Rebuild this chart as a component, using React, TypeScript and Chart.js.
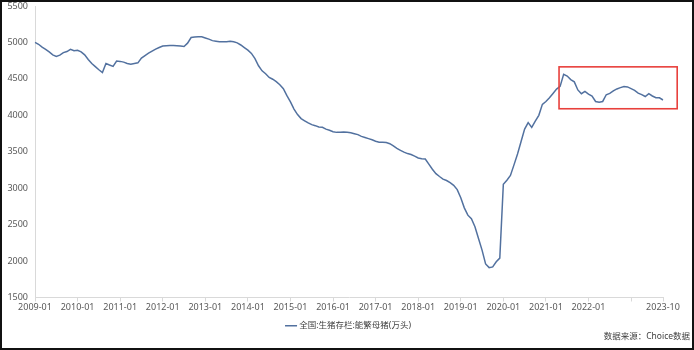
import { useEffect, useRef } from "react";
import { Chart, registerables } from "chart.js";

Chart.register(...registerables);

// ---- data ----
const START_YEAR = 2009;
const END_YEAR = 2023;
const END_MONTH = 10;
const MONTHS: string[] = [];
for (let y = START_YEAR; y <= END_YEAR; y++) {
  for (let m = 1; m <= 12; m++) {
    if (y === END_YEAR && m > END_MONTH) break;
    MONTHS.push(`${y}-${m < 10 ? "0" + m : m}`);
  }
}

const SOWS_2009_2012 = [
  5000, 4975, 4935, 4905, 4870, 4830, 4808, 4825, 4860, 4875, 4905, 4885,
  4893, 4870, 4830, 4765, 4710, 4668, 4625, 4586, 4710, 4690, 4672, 4745,
  4740, 4730, 4712, 4700, 4710, 4720, 4785, 4820, 4852, 4880, 4908, 4930,
  4950, 4955, 4958, 4958, 4955, 4950, 4945, 4990, 5068, 5075, 5077, 5078,
];
const SOWS_2013_2016 = [
  5062, 5045, 5025, 5017, 5010, 5008, 5010, 5017, 5008, 4994, 4965, 4930,
  4895, 4850, 4778, 4680, 4610, 4570, 4520, 4495, 4462, 4420, 4365, 4270,
  4185, 4085, 4010, 3955, 3925, 3895, 3872, 3858, 3840, 3835, 3810, 3795,
  3775, 3766, 3768, 3770, 3768, 3760, 3748, 3735, 3711, 3695, 3680, 3664,
];
const SOWS_2017_2020 = [
  3645, 3632, 3630, 3626, 3610, 3580, 3545, 3520, 3495, 3475, 3462, 3440,
  3415, 3405, 3400, 3330, 3260, 3200, 3160, 3125, 3105, 3075, 3040, 2980,
  2870, 2730, 2630, 2580, 2470, 2310, 2150, 1960, 1910, 1920, 1990, 2040,
  3055, 3110, 3175, 3320, 3470, 3640, 3810, 3900, 3835, 3920, 4000, 4150,
];
const SOWS_2021_2023 = [
  4190, 4240, 4300, 4360, 4397, 4564, 4539, 4490, 4459, 4348, 4296, 4329,
  4290, 4265, 4190, 4180, 4190, 4282, 4300, 4335, 4362, 4380, 4395, 4390,
  4367, 4343, 4305, 4284, 4258, 4296, 4265, 4241, 4240, 4210,
];
const SOWS = [...SOWS_2009_2012, ...SOWS_2013_2016, ...SOWS_2017_2020, ...SOWS_2021_2023];

const SERIES_NAME = "全国:生猪存栏:能繁母猪(万头)";
const SOURCE_TEXT = "数据来源：Choice数据";
const Y_MIN = 1500;
const Y_MAX = 5500;
const Y_STEP = 500;
// highlighted region (month index range, value range)
const HIGHLIGHT_X = [147.7, 181];
const HIGHLIGHT_Y = [4090, 4665];

const FONT = '"Noto Sans", "Noto Sans CJK SC", sans-serif';

export default function App() {
  const ref = useRef<HTMLCanvasElement>(null);
  useEffect(() => {
    document.body.style.margin = "0";
    if (!ref.current) return;
    const last = MONTHS.length - 1;
    const extras = {
      id: "extras",
      afterDatasetsDraw(chart: any) {
        const { ctx, scales } = chart;
        const x = scales.x, y = scales.y;
        ctx.save();
        const x0 = x.getPixelForValue(HIGHLIGHT_X[0]);
        const x1 = x.getPixelForValue(HIGHLIGHT_X[1]);
        const y0 = y.getPixelForValue(HIGHLIGHT_Y[1]);
        const y1 = y.getPixelForValue(HIGHLIGHT_Y[0]);
        ctx.strokeStyle = "#e8403c";
        ctx.lineWidth = 1.6;
        ctx.strokeRect(x0, y0, x1 - x0, y1 - y0);
        ctx.restore();
      },
      afterDraw(chart: any) {
        const { ctx, width, height } = chart;
        ctx.save();
        ctx.font = `8.5px ${FONT}`;
        ctx.fillStyle = "#404040";
        ctx.textAlign = "right";
        ctx.textBaseline = "middle";
        ctx.fillText(SOURCE_TEXT, width - 4, height - 13);
        ctx.strokeStyle = "#111";
        ctx.lineWidth = 2;
        ctx.strokeRect(1, 1, width - 2, height - 2);
        ctx.restore();
      },
    };
    const chart = new Chart(ref.current, {
      type: "line",
      data: {
        labels: MONTHS,
        datasets: [
          {
            label: SERIES_NAME,
            data: SOWS,
            borderColor: "#52719f",
            backgroundColor: "#52719f",
            borderWidth: 1.5,
            pointRadius: 0,
            tension: 0,
            fill: false,
          },
        ],
      },
      options: {
        animation: false,
        responsive: false,
        layout: { padding: { top: 6, right: 31, bottom: 10, left: 0 } },
        plugins: {
          legend: {
            position: "bottom",
            fullSize: false,
            labels: {
              usePointStyle: true,
              pointStyle: "line",
              boxWidth: 8,
              padding: 4,
              color: "#404040",
              font: { size: 8.5, family: FONT },
            },
          },
          tooltip: { enabled: false },
        },
        scales: {
          x: {
            type: "category",
            offset: false,
            afterBuildTicks(axis: any) {
              axis.ticks = MONTHS.map((l, i) => ({ value: i, label: l })).filter(
                (t) => t.label.endsWith("-01") || t.value === last
              );
            },
            afterFit(axis: any) {
              axis.height = 20;
            },
            grid: {
              display: true,
              drawOnChartArea: false,
              drawTicks: true,
              tickLength: 4,
              color: "#d9d9d9",
            },
            border: { display: true, color: "#d9d9d9", width: 1 },
            ticks: {
              autoSkip: false,
              maxRotation: 0,
              padding: 1,
              color: "#595959",
              font: { size: 9, family: FONT },
              callback(value: any) {
                const lab = MONTHS[value as number];
                if (lab === "2023-01") return "";
                return lab;
              },
            },
          },
          y: {
            min: Y_MIN,
            max: Y_MAX,
            afterFit(axis: any) {
              axis.width = 35;
              axis.paddingTop = 0;
              axis.paddingBottom = 0;
            },
            grid: { display: false, drawTicks: false },
            border: { display: true, color: "#d9d9d9", width: 1 },
            ticks: {
              stepSize: Y_STEP,
              padding: 7,
              color: "#595959",
              font: { size: 9, family: FONT },
              callback(value: any) {
                return String(value);
              },
            },
          },
        },
      },
      plugins: [extras],
    });
    return () => chart.destroy();
  }, []);
  return <canvas ref={ref} width={694} height={350} style={{ display: "block" }} />;
}
